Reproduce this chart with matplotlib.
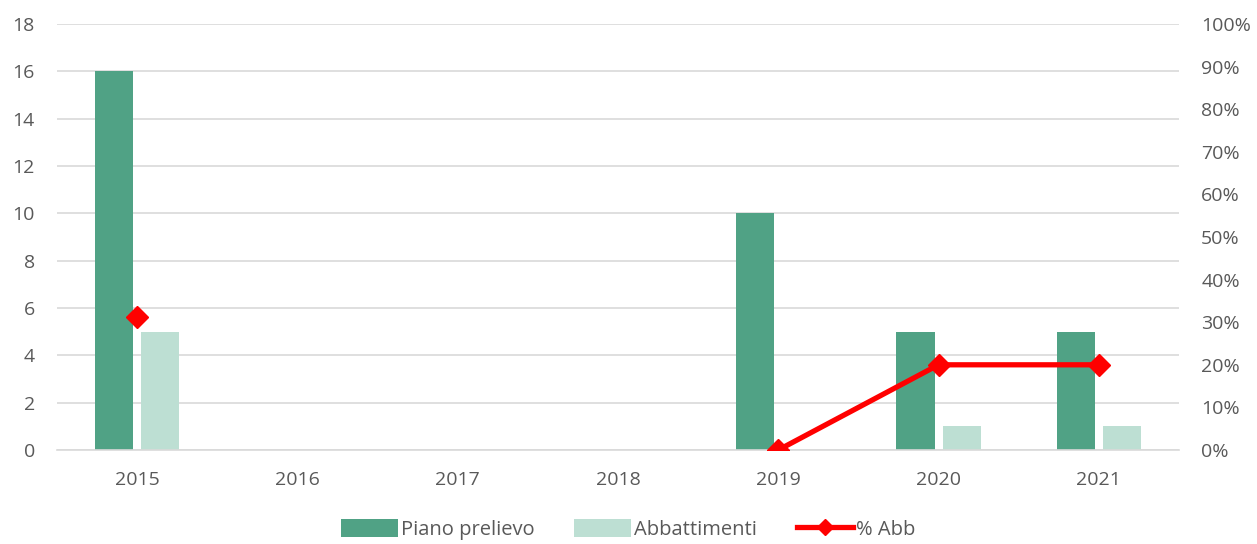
import numpy as np
import matplotlib.pyplot as plt
from matplotlib.ticker import PercentFormatter

plt.rcParams['font.family'] = ['Open Sans', 'DejaVu Sans']

anni = ["2015", "2016", "2017", "2018", "2019", "2020", "2021"]
piano_prelievo = [16, np.nan, np.nan, np.nan, 10, 5, 5]
abbattimenti = [5, np.nan, np.nan, np.nan, 0, 1, 1]
perc_abb = [31.25, np.nan, np.nan, np.nan, 0, 20, 20]

verde = "#50A285"
verde_chiaro = "#BDDFD3"
testo = "#595959"

fig = plt.figure(figsize=(12.57, 5.44), dpi=100)
ax = fig.add_axes([57 / 1257, 1 - 450 / 544, (1179 - 57) / 1257, 426 / 544])
ax2 = ax.twinx()

x = np.arange(len(anni))
w = 0.2375
ax.bar(x - 0.144, piano_prelievo, w, color=verde, label="Piano prelievo", zorder=2)
ax.bar(x + 0.144, abbattimenti, w, color=verde_chiaro, label="Abbattimenti", zorder=2)

ax2.plot(x, perc_abb, color="red", lw=3.8, marker="D", markersize=11.5,
         label="% Abb", zorder=3)

ax.set_xlim(-0.5, len(anni) - 0.5)
ax.set_ylim(0, 18)
ax.set_yticks(range(0, 19, 2))
ax2.set_ylim(0, 100)
ax2.set_yticks(range(0, 101, 10))
ax2.yaxis.set_major_formatter(PercentFormatter(decimals=0))

ax.set_xticks(x)
ax.set_xticklabels(anni)
ax.grid(axis="y", color="#D9D9D9", lw=1.2, zorder=0)
ax.set_axisbelow(True)

for a in (ax, ax2):
    for s in a.spines.values():
        s.set_visible(False)
    a.tick_params(length=0, labelsize=14, colors=testo)
ax.tick_params(axis="y", pad=16)
ax2.tick_params(axis="y", pad=16)
ax.tick_params(axis="x", pad=15)
ax.spines["bottom"].set_visible(True)
ax.spines["bottom"].set_color("#D9D9D9")
ax.spines["bottom"].set_linewidth(1.2)

h1, l1 = ax.get_legend_handles_labels()
h2, l2 = ax2.get_legend_handles_labels()
fig.legend(h1 + h2, l1 + l2, loc="center", bbox_to_anchor=(0.5, 0.026), ncol=3,
           frameon=False, fontsize=14.5, labelcolor=testo, handlelength=2.8,
           handleheight=1.0, handletextpad=0.15, columnspacing=2.0,
           markerscale=0.75)

fig.savefig("out.png", dpi=100)
